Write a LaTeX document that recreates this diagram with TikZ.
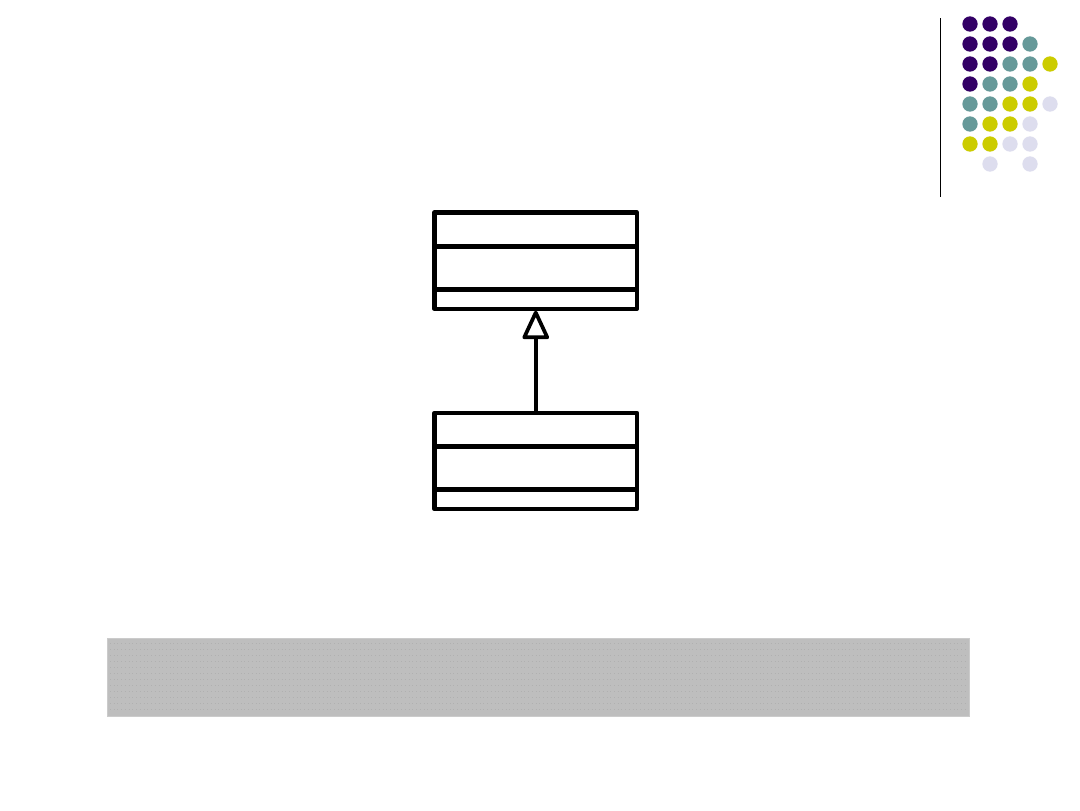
\documentclass[tikz,border=0pt]{standalone}
\definecolor{dpurple}{HTML}{330066}
\definecolor{dteal}{HTML}{669999}
\definecolor{dyellow}{HTML}{CCCC00}
\definecolor{dlav}{HTML}{DDDDEE}
\definecolor{band}{HTML}{BEBEBE}
\definecolor{banddot}{HTML}{B0B0B0}
\begin{document}
\begin{tikzpicture}[x=0.75pt,y=-0.75pt,
  classbox/.style={draw=black,line width=3.1pt,minimum width=202.5*0.75pt,minimum height=96.5*0.75pt,inner sep=0pt,outer sep=0pt,line join=round},
  divider/.style={line width=3.1pt},
  conn/.style={line width=2.8pt},
  openhead/.style={line width=2.8pt,line join=round,fill=white},
  dot/.style={circle,fill=#1,minimum size=11.5pt,inner sep=0pt}]
\useasboundingbox (0,0) rectangle (1080,810);
\fill[white] (0,0) rectangle (1080,810);
% decoration
\draw[line width=0.75pt] (940,18) coordinate (vtop) -- (940,197) coordinate (vbot);
\foreach \c/\col/\row in {dpurple/0/0,dpurple/1/0,dpurple/2/0,
  dpurple/0/1,dpurple/1/1,dpurple/2/1,dteal/3/1,
  dpurple/0/2,dpurple/1/2,dteal/2/2,dteal/3/2,dyellow/4/2,
  dpurple/0/3,dteal/1/3,dteal/2/3,dyellow/3/3,
  dteal/0/4,dteal/1/4,dyellow/2/4,dyellow/3/4,dlav/4/4,
  dteal/0/5,dyellow/1/5,dyellow/2/5,dlav/3/5,
  dyellow/0/6,dyellow/1/6,dlav/2/6,dlav/3/6,
  dlav/1/7,dlav/3/7}
  \node[dot=\c] (d\col\row) at ({970+20*\col},{24+20*\row}) {};
% classes
\node[classbox] (super) at (535.75,260.75) {};
\node[classbox] (sub) at (535.75,461) {};
\draw[divider] (super.west |- 0,246.5) -- (super.east |- 0,246.5);
\draw[divider] (super.west |- 0,289.5) -- (super.east |- 0,289.5);
\draw[divider] (sub.west |- 0,446.5) -- (sub.east |- 0,446.5);
\draw[divider] (sub.west |- 0,489.5) -- (sub.east |- 0,489.5);
\draw[conn] (sub.north) -- (super.south |- 0,337);
\draw[openhead] (super.south) ++(0,3.6) coordinate (apex) -- ++(11.5,24.7) -- ++(-23,0) -- cycle;
% bottom band
\node[fill=band,draw=band!80!white,line width=0.75pt,minimum width=862*0.75pt,minimum height=78*0.75pt,inner sep=0pt] (bandbox) at (538,677) {};
\foreach \yy in {643.5,649.5,...,711.5}
  \draw[banddot,line width=0.6pt,dash pattern=on 0.6pt off 2.2pt] (110,\yy) -- (966,\yy);
\end{tikzpicture}
\end{document}
